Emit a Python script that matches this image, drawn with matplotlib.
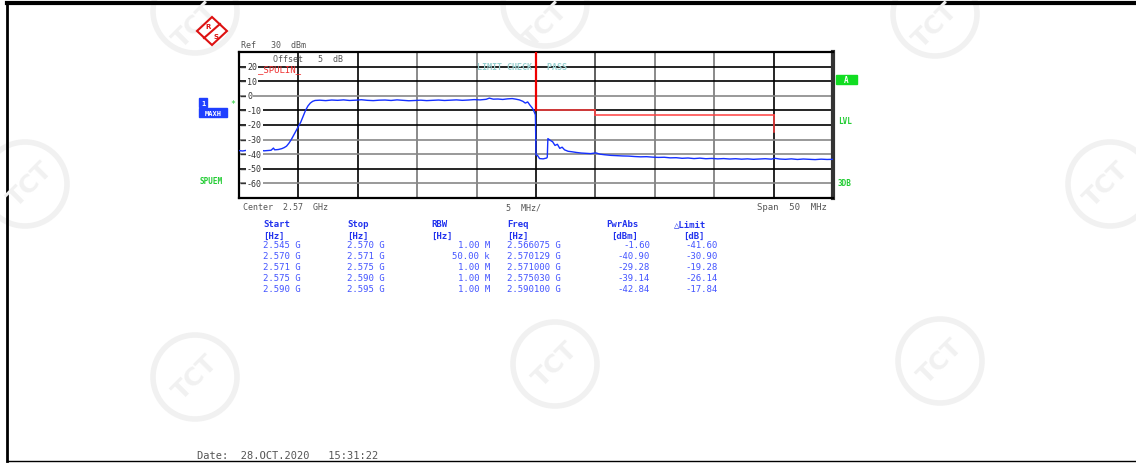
import matplotlib
matplotlib.use("Agg")
import matplotlib.pyplot as plt
from matplotlib.patches import Rectangle, Circle, Polygon

# ---- trace (MHz, dBm) ----
freq_mhz = [2545.0, 2545.3, 2545.6, 2545.9, 2546.2, 2546.5, 2546.8, 2547.1, 2547.4, 2547.7,
            2547.9, 2548.0, 2548.3, 2548.6, 2548.8, 2549.0, 2549.2, 2549.4, 2549.6, 2549.8,
            2550.0, 2550.2, 2550.4, 2550.6, 2550.8, 2551.0, 2551.2, 2551.4, 2551.8, 2552.3,
            2552.8, 2553.3, 2553.8, 2554.3, 2554.8, 2555.3, 2555.8, 2556.3, 2556.8, 2557.3,
            2557.8, 2558.3, 2558.8, 2559.3, 2559.8, 2560.3, 2560.8, 2561.3, 2561.8, 2562.3,
            2562.8, 2563.3, 2563.8, 2564.3, 2564.8, 2565.3, 2565.8, 2566.075, 2566.4, 2566.8,
            2567.2, 2567.6, 2568.0, 2568.3, 2568.6, 2568.9, 2569.1, 2569.3, 2569.5, 2569.7,
            2569.85, 2569.95, 2570.0, 2570.129, 2570.3, 2570.6, 2570.9, 2570.95, 2571.0, 2571.2,
            2571.4, 2571.6, 2571.8, 2572.0, 2572.2, 2572.4, 2572.7, 2573.0, 2573.4, 2573.8,
            2574.2, 2574.6, 2575.03, 2575.4, 2575.8, 2576.3, 2576.8, 2577.3, 2577.8, 2578.3,
            2578.8, 2579.3, 2579.8, 2580.3, 2580.8, 2581.3, 2581.8, 2582.3, 2582.8, 2583.3,
            2583.8, 2584.3, 2584.8, 2585.3, 2585.8, 2586.3, 2586.8, 2587.3, 2587.8, 2588.3,
            2588.8, 2589.3, 2589.8, 2590.1, 2590.5, 2591.0, 2591.5, 2592.0, 2592.5, 2593.0,
            2593.5, 2594.0, 2594.5, 2595.0]
level_dbm = [-37.5, -37.8, -37.4, -37.9, -37.6, -37.8, -37.2, -37.7, -37.5, -37.3,
             -35.8, -37.0, -36.8, -36.2, -35.5, -34.5, -32.5, -30.0, -27.0, -24.0,
             -21.0, -18.0, -14.0, -10.0, -7.0, -5.0, -3.8, -3.2, -3.0, -3.3,
             -2.9, -3.1, -2.8, -3.2, -3.0, -2.7, -3.1, -3.3, -3.0, -2.9,
             -3.2, -2.8, -3.1, -3.4, -3.2, -3.0, -3.3, -3.1, -2.9, -3.2,
             -3.0, -2.8, -3.1, -2.9, -2.6, -2.8, -2.4, -1.6, -2.3, -2.2,
             -2.5, -2.1, -1.9, -2.3, -2.8, -3.8, -5.0, -4.2, -6.5, -8.5,
             -11.0, -13.0, -40.5, -40.9, -43.0, -43.2, -42.6, -42.0, -29.3, -30.5,
             -31.5, -34.0, -33.2, -36.0, -35.2, -37.0, -38.0, -38.3, -38.8, -39.2,
             -39.4, -39.6, -39.1, -40.0, -40.4, -40.8, -41.0, -41.2, -41.3, -41.6,
             -41.8, -41.7, -42.0, -42.2, -42.1, -42.5, -42.4, -42.8, -42.6, -43.0,
             -42.7, -43.1, -42.9, -43.2, -43.0, -43.3, -43.1, -43.4, -43.2, -43.5,
             -43.3, -43.1, -43.4, -42.8, -43.3, -43.5, -43.2, -43.6, -43.3, -43.5,
             -43.7, -43.4, -43.6, -43.5]

# ---- result table ----
start_g = ["2.545", "2.570", "2.571", "2.575", "2.590"]
stop_g = ["2.570", "2.571", "2.575", "2.590", "2.595"]
rbw = ["1.00 M", "50.00 k", "1.00 M", "1.00 M", "1.00 M"]
peak_freq_g = ["2.566075", "2.570129", "2.571000", "2.575030", "2.590100"]
pwr_abs = [-1.60, -40.90, -29.28, -39.14, -42.84]
delta_limit = [-41.60, -30.90, -19.28, -26.14, -17.84]

ref_level = 30
y_labels = [20, 10, 0, -10, -20, -30, -40, -50, -60]

W, H = 1136, 464
fig = plt.figure(figsize=(W / 100, H / 100), dpi=100)
mono = "DejaVu Sans Mono"

# background layer (watermarks, border)
bg = fig.add_axes([0, 0, 1, 1])
bg.set_xlim(0, W)
bg.set_ylim(H, 0)
bg.axis("off")
wm = "#f1f1f1"
for cx, cy in [(195, 12), (545, 5), (935, 15), (25, 185), (1110, 185),
               (195, 378), (555, 365), (940, 362)]:
    bg.add_patch(Circle((cx, cy), 42, fill=False, ec=wm, lw=4))
    ty = max(cy, 26)
    tx = min(max(cx, 30), W - 30)
    bg.text(tx, ty, "TCT", rotation=45, color=wm, fontsize=18,
            fontweight="bold", ha="center", va="center")
bg.plot([7, 7], [3, 462], color="black", lw=2)
bg.plot([7, W], [3.5, 3.5], color="black", lw=3)
bg.plot([7, W], [461.5, 461.5], color="black", lw=1)

# spectrum
ax = fig.add_axes([239 / W, 1 - 199 / H, 594 / W, 146 / H])
ax.set_xlim(2545, 2595)
ax.set_ylim(-70, 30)
ax.set_xticks([])
ax.set_yticks([])
for s in ax.spines.values():
    s.set_linewidth(1.6)
ax.spines["right"].set_linewidth(3)
ax.spines["right"].set_color("#333333")

vcol = ["black", "black", "#777777", "#777777", "black", "#444444", "#777777", "#777777", "black"]
for i, f in enumerate(range(2550, 2595, 5)):
    ax.axvline(f, color=vcol[i], lw=1.2, zorder=1)
hcol = ["black", "black", "#888888", "black", "black", "#888888", "#888888", "black", "#888888"]
for i, v in enumerate(y_labels):
    ax.axhline(v, color=hcol[i], lw=1.2, zorder=1)

ax.plot(freq_mhz, level_dbm, color="#1530ff", lw=1.0, zorder=4)

# limit line derived from the table (limit = PwrAbs - delta)
limits = [p - d for p, d in zip(pwr_abs, delta_limit)]
starts = [float(s) * 1000 for s in start_g]
stops = [float(s) * 1000 for s in stop_g]
ax.plot([stops[0], stops[0]], [ref_level + 10, limits[1]], color="#ee0000", lw=1.6, zorder=5)
ax.plot([starts[1], stops[2]], [limits[1], limits[2]], color="#ff4040", lw=1.1, zorder=3)
ax.plot([starts[3], starts[3]], [limits[2], limits[3]], color="#ff4040", lw=1.1, zorder=3)
ax.plot([starts[3], stops[3]], [limits[3], limits[3]], color="#ff4040", lw=1.1, zorder=3)
ax.plot([stops[3], stops[3]], [limits[3], limits[4]], color="#ff4040", lw=1.1, zorder=3)

# overlay layer for screen annotations
ov = fig.add_axes([0, 0, 1, 1])
ov.set_xlim(0, W)
ov.set_ylim(H, 0)
ov.axis("off")
ov.patch.set_alpha(0)

gray = "#555555"
ov.text(241, 46, "Ref   30  dBm", family=mono, fontsize=6, color=gray, va="center")
ov.text(273, 60, "Offset   5  dB", family=mono, fontsize=6, color=gray, va="center")
ov.text(258, 70, "_SPULIN_", family=mono, fontsize=6.5, color="#ee3030", va="center")
ov.text(477, 68, "LIMIT CHECK   PASS", family=mono, fontsize=6, color="#99d0d0",
        va="center", fontweight="bold")

y0 = 53
px_per_db = 146 / 100
for v in y_labels:
    yy = y0 + (ref_level - v) * px_per_db
    ov.plot([241, 246], [yy, yy], color="#333333", lw=1)
    ov.text(247, yy, str(v), family=mono, fontsize=6, color="#333333", va="center",
            bbox=dict(fc="white", ec="none", pad=0.6))

ov.text(243, 208, "Center  2.57  GHz", family=mono, fontsize=6, color=gray, va="center")
ov.text(506, 208, "5  MHz/", family=mono, fontsize=6, color=gray, va="center")
ov.text(757, 208, "Span  50  MHz", family=mono, fontsize=6.5, color=gray, va="center")

# side softkey labels
green = "#22cc33"
ov.add_patch(Rectangle((199, 99), 8, 9, color="#1f3fff"))
ov.text(203, 103.5, "1", family=mono, fontsize=5, color="white", ha="center", va="center",
        fontweight="bold")
ov.add_patch(Rectangle((199, 109), 28, 9, color="#1f3fff"))
ov.text(213, 113.5, "MAXH", family=mono, fontsize=5, color="white", ha="center", va="center",
        fontweight="bold")
ov.text(233, 104, "*", family=mono, fontsize=6, color=green, ha="center", va="center")
ov.text(200, 182, "SPUEM", family=mono, fontsize=5.5, color=green, va="center", fontweight="bold")
ov.add_patch(Rectangle((836, 76), 21, 9, color="#11dd22"))
ov.text(846.5, 80.5, "A", family=mono, fontsize=5.5, color="white", ha="center", va="center",
        fontweight="bold")
ov.text(838, 122, "LVL", family=mono, fontsize=5.5, color=green, va="center", fontweight="bold")
ov.text(838, 184, "3DB", family=mono, fontsize=5.5, color=green, va="center", fontweight="bold")

# R&S logo
ov.add_patch(Polygon([(197, 32), (212, 18), (227, 32), (212, 46)], closed=True,
                     fc="white", ec="#dd1111", lw=1.5))
ov.plot([204, 220], [39, 25], color="#dd1111", lw=1.5)
ov.text(208, 27, "R", fontsize=5, color="#dd1111", ha="center", va="center", fontweight="bold")
ov.text(216, 37, "S", fontsize=5, color="#dd1111", ha="center", va="center", fontweight="bold")

# table
tblue = "#4455ff"
hblue = "#2233ee"
hy, uy = 225, 236
ov.text(263, hy, "Start", family=mono, fontsize=6.5, color=hblue, va="center", fontweight="bold")
ov.text(347, hy, "Stop", family=mono, fontsize=6.5, color=hblue, va="center", fontweight="bold")
ov.text(431, hy, "RBW", family=mono, fontsize=6.5, color=hblue, va="center", fontweight="bold")
ov.text(507, hy, "Freq", family=mono, fontsize=6.5, color=hblue, va="center", fontweight="bold")
ov.text(606, hy, "PwrAbs", family=mono, fontsize=6.5, color=hblue, va="center", fontweight="bold")
ov.text(674, hy, "\u25b3Limit", family=mono, fontsize=6.5, color=hblue, va="center", fontweight="bold")
for x, u in [(263, "[Hz]"), (347, "[Hz]"), (431, "[Hz]"), (507, "[Hz]"), (611, "[dBm]"), (683, "[dB]")]:
    ov.text(x, uy, u, family=mono, fontsize=6.5, color=hblue, va="center", fontweight="bold")
for i in range(len(start_g)):
    ry = 246 + i * 11
    ov.text(263, ry, start_g[i] + " G", family=mono, fontsize=6.5, color=tblue, va="center")
    ov.text(347, ry, stop_g[i] + " G", family=mono, fontsize=6.5, color=tblue, va="center")
    ov.text(490, ry, rbw[i], family=mono, fontsize=6.5, color=tblue, va="center", ha="right")
    ov.text(507, ry, peak_freq_g[i] + " G", family=mono, fontsize=6.5, color=tblue, va="center")
    ov.text(650, ry, "%.2f" % pwr_abs[i], family=mono, fontsize=6.5, color=tblue, va="center", ha="right")
    ov.text(718, ry, "%.2f" % delta_limit[i], family=mono, fontsize=6.5, color=tblue, va="center", ha="right")

ov.text(197, 456, "Date:  28.OCT.2020   15:31:22", family=mono, fontsize=7.5, color=gray, va="center")

fig.savefig("out.png", dpi=100)
